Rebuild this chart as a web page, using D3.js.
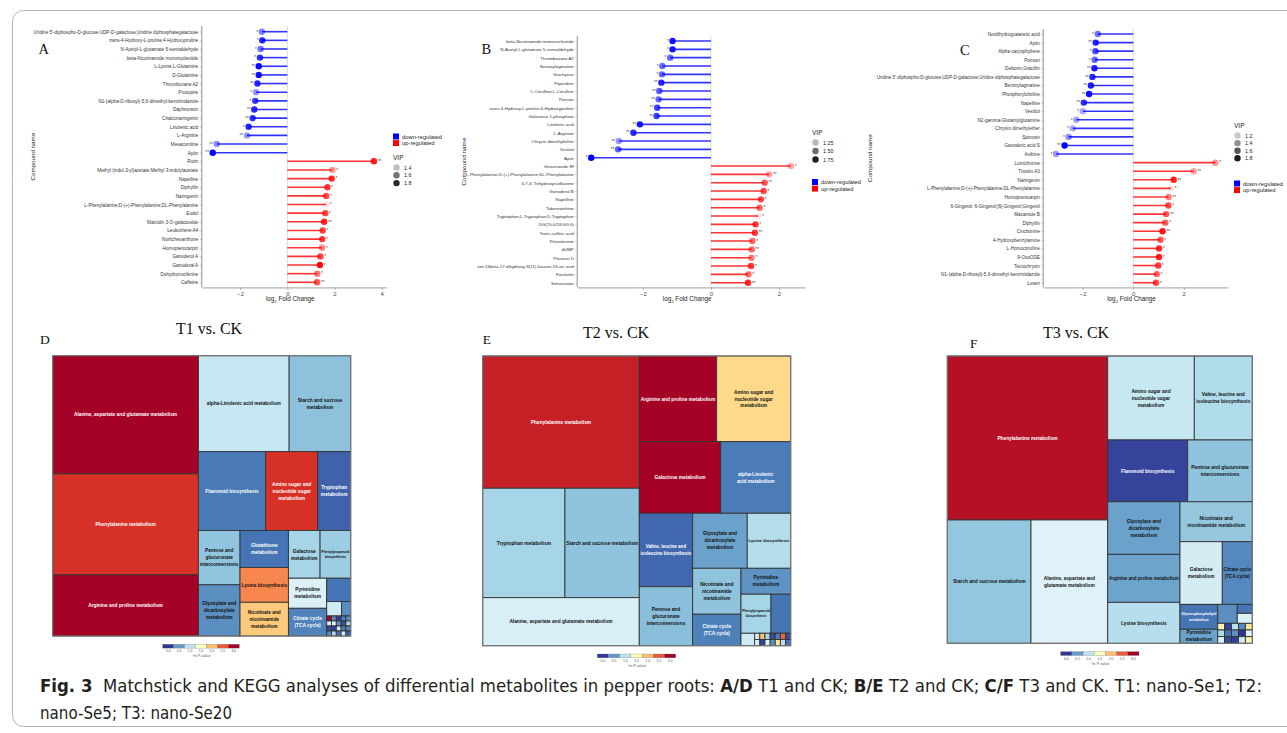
<!DOCTYPE html>
<html><head><meta charset="utf-8">
<script src="https://cdn.jsdelivr.net/npm/d3@7"></script>
<style>
html,body{margin:0;padding:0;background:#fff;}
svg{display:block;}
</style></head><body>
<svg id="fig" width="1287" height="733"></svg>
<script>
// ---------- Matchstick data (log2 fold change, VIP, significance) ----------
const compoundsA = [
  "Uridine 5'-diphospho-D-glucose;UDP-D-galactose;Uridine diphosphategalactose",
  "trans-4-Hydroxy-L-proline;4-Hydroxyproline","N-Acetyl-L-glutamate 5-semialdehyde",
  "beta-Nicotinamide mononucleotide","L-Lysine;L-Glutamine","D-Glutamine","Thromboxane A2",
  "Protopine","N1-(alpha-D-ribosyl)-5,6-dimethyl-benzimidazole","Daphnoretin","Chalconaringenin",
  "Linolenic acid","L-Arginine","Mesaconitine","Apiin","Rutin",
  "Methyl (indol-3-yl)acetate;Methyl 3-indolylacetate","Napelline","Diphyllin","Naringenin",
  "L-Phenylalanine;D-(+)-Phenylalanine;DL-Phenylalanine","Eudol","Malvidin 3-O-galactoside",
  "Leukotriene A4","Norlichexanthone","Homopterocarpin","Ganoderol A","Ganoderal A",
  "Dehydronuciferine","Caffeine"];
const log2fcA = [-1.08,-1.06,-1.13,-1.16,-1.21,-1.21,-1.27,-1.33,-1.36,-1.40,-1.47,-1.64,-1.71,-2.99,-3.16,
  3.67,1.91,1.88,1.70,1.65,1.64,1.61,1.56,1.50,1.48,1.47,1.40,1.38,1.27,1.26];
const vipA = [1.55,1.82,1.60,1.78,1.88,1.86,1.80,1.50,1.75,1.80,1.78,1.80,1.50,1.52,1.90,
  1.82,1.50,1.80,1.75,1.70,1.30,1.72,1.80,1.72,1.75,1.55,1.72,1.88,1.58,1.68];
const sigA = ["*","*","*","*","**","**","**","*","*","**","**","*","**","**","**",
  "**","*","*","*","*","*","*","**","*","*","*","*","*","*","**"];

const compoundsB = [
  "beta-Nicotinamide mononucleotide","N-Acetyl-L-glutamate 5-semialdehyde","Thromboxane A2",
  "Benzoylagmatine","Stachyose","Piperidine","L-Citrulline;L-Citrulline","Ponson",
  "trans-4-Hydroxy-L-proline;4-Hydroxyproline","Galactose 1-phosphate","Linolenic acid",
  "L-Arginine","Chrysin dimethylether","Vestitol","Apiin",
  "Ginsenoside Rf","L-Phenylalanine;D-(+)-Phenylalanine;DL-Phenylalanine",
  "6,7,4'-Trihydroxyisoflavone","Ganoderol B","Napelline","Tabernanthine",
  "Tryptophan;L-Tryptophan;D-Tryptophan","DG(15:0/18:0/0:0)","Trans-caffeic acid",
  "Petasitenine","dUMP","Pterocin D","ent-16beta,17-dihydroxy-9(11)-kauren-19-oic acid",
  "Forskolin","Simvastatin"];
const log2fcB = [-1.13,-1.13,-1.20,-1.43,-1.44,-1.46,-1.52,-1.54,-1.58,-1.60,-2.09,-2.28,-2.71,-2.73,-3.52,
  2.35,1.71,1.58,1.55,1.47,1.43,1.39,1.31,1.29,1.22,1.20,1.19,1.18,1.10,1.09];
const vipB = [1.78,1.78,1.50,1.50,1.52,1.72,1.55,1.52,1.65,1.65,1.78,1.72,1.35,1.55,1.85,
  1.30,1.32,1.55,1.60,1.62,1.52,1.10,1.66,1.66,1.50,1.50,1.45,1.66,1.50,1.72];
const sigB = ["*","*","*","*","*","**","**","**","**","**","**","**","**","**","*",
  "*","**","**","*","*","*","*","*","**","*","**","*","*","*","**"];

const compoundsC = [
  "Nordihydroguaiaretic acid","Apiin","Alpha-caryophyllene","Ponson","Deltonin;Gracillin",
  "Uridine 5'-diphospho-D-glucose;UDP-D-galactose;Uridine diphosphategalactose",
  "Benzoylagmatine","Phosphorylcholine","Napelline","Vestitol","N2-gamma-Glutamylglutamine",
  "Chrysin dimethylether","Spinosin","Ganoderic acid S","Anibine",
  "Lumichrome","Triostin A3","Naringenin","L-Phenylalanine;D-(+)-Phenylalanine;DL-Phenylalanine",
  "Homopterocarpin","6-Gingerol; 6-Gingerol;[6]-Gingerol;Gingerol","Macamide B","Diphyllin",
  "Cinchonine","4-Hydroxybenzylamine","L-Homocitrulline","9-OxoODE","Tectochrysin",
  "N1-(alpha-D-ribosyl)-5,6-dimethyl-benzimidazole","Lutein"];
const log2fcC = [-1.41,-1.49,-1.50,-1.53,-1.54,-1.62,-1.68,-1.75,-1.96,-2.00,-2.26,-2.40,-2.56,-2.72,-3.06,
  3.25,2.39,1.60,1.49,1.40,1.39,1.30,1.27,1.16,1.08,1.02,1.02,0.99,0.93,0.90];
const vipC = [1.50,1.78,1.65,1.55,1.80,1.75,1.80,1.85,1.75,1.30,1.32,1.30,1.40,1.90,1.35,
  1.38,1.35,1.78,1.10,1.45,1.65,1.60,1.55,1.82,1.58,1.75,1.78,1.68,1.55,1.65];
const sigC = ["*","**","*","*","**","**","**","**","**","*","*","*","*","**","*",
  "*","**","**","*","**","*","**","*","**","*","*","*","*","*","*"];

const vipBreaksA = [1.4, 1.6, 1.8];
const vipBreaksB = [1.25, 1.50, 1.75];
const vipBreaksC = [1.2, 1.4, 1.6, 1.8];
const fcTicksA = [-2, 0, 2, 4];
const fcTicksB = [-2, 0, 2];
const fcTicksC = [-2, 0, 2];

// ---------- KEGG treemap data (pathway, relative size, -ln P) ----------
const pathwaysD = ["Alanine, aspartate and glutamate metabolism","Phenylalanine metabolism",
  "Arginine and proline metabolism","alpha-Linolenic acid metabolism","Starch and sucrose\nmetabolism",
  "Flavonoid biosynthesis","Amino sugar and\nnucleotide sugar\nmetabolism","Tryptophan\nmetabolism",
  "Pentose and\nglucuronate\ninterconversions","Glyoxylate and\ndicarboxylate\nmetabolism",
  "Glutathione\nmetabolism","Lysine biosynthesis","Nicotinate and\nnicotinamide\nmetabolism",
  "Galactose\nmetabolism","Phenylpropanoid\nbiosynthesis","Pyrimidine\nmetabolism","Citrate cycle\n(TCA cycle)"];
const sizeD = [172,147,89,87,59,53,41,26,22.6,21.3,17.9,16.8,16.3,15.1,14.6,11.5,10.6];
const lnpD = [3.0,2.7,3.0,1.05,0.74,0.33,2.7,0.21,0.76,0.44,0.3,2.28,1.94,0.87,0.82,1.17,0.37];
const minorSizeD = [5.6,2.15,1.3].concat(d3.range(20).map(() => 0.24));
const minorLnpD = [0.3,1.1,0.43,
  3.0,1.15,0.1,0.4, 0.4,1.2,0.05,0.9, 0.05,0.45,1.1,0.3, 0.35,0.1,0.35,1.15, 0.45,0.9,0.4,0.2];

const pathwaysE = ["Phenylalanine metabolism","Tryptophan metabolism","Starch and sucrose metabolism",
  "Alanine, aspartate and glutamate metabolism","Arginine and proline metabolism",
  "Amino sugar and\nnucleotide sugar\nmetabolism","Galactose metabolism","alpha-Linolenic\nacid metabolism",
  "Valine, leucine and\nisoleucine biosynthesis","Pentose and\nglucuronate\ninterconversions",
  "Glyoxylate and\ndicarboxylate\nmetabolism","Lysine biosynthesis","Nicotinate and\nnicotinamide\nmetabolism",
  "Citrate cycle\n(TCA cycle)","Pyrimidine\nmetabolism","Phenylpropanoid\nbiosynthesis"];
const sizeE = [207,90,81.3,75.2,66.3,63.4,58.3,50.1,39.2,31.5,30,23.9,22.2,15.2,12.9,11.7];
const lnpE = [2.8,0.87,0.75,1.15,3.0,1.84,3.0,0.34,0.24,0.72,0.54,0.95,0.75,0.36,0.46,0.87];
const minorSizeE = [7.7,1.7].concat(d3.range(14).map(() => 0.32));
const minorLnpE = [0.3,1.1, 1.1,1.15, 2.0,0.05, 0.9,1.2, 0.1,0.45, 0.35,1.75, 2.45,1.0, 0.1,0.3];

const pathwaysF = ["Phenylalanine metabolism","Starch and sucrose metabolism",
  "Alanine, aspartate and\nglutamate metabolism","Amino sugar and\nnucleotide sugar\nmetabolism",
  "Valine, leucine and\nisoleucine biosynthesis","Flavonoid biosynthesis",
  "Pentose and glucuronate\ninterconversions","Glyoxylate and\ndicarboxylate\nmetabolism",
  "Arginine and proline metabolism","Lysine biosynthesis","Nicotinate and\nnicotinamide metabolism",
  "Galactose\nmetabolism","Citrate cycle\n(TCA cycle)","Glycerophospholipid\nmetabolism","Pyrimidine\nmetabolism"];
const sizeF = [263,103.2,94.6,72.7,48.7,49.4,39.9,38,34.7,29.6,28.9,26.5,18.8,9.4,5.3];
const lnpF = [2.9,0.77,1.19,1.06,0.93,0.06,0.75,0.54,0.55,0.96,0.78,1.13,0.4,0.3,0.54];
const minorSizeF = [3.7,1.35,1.5].concat(d3.range(15).map(() => 0.46));
const minorLnpF = [0.44,0.3,1.17, 1.6,0.9,1.2, 0.05,0.3,0.1, 1.0,0.45,0.05, 0.4,0.0,1.1, 1.75,1.2,1.6];

const lnpTicks = [0, 0.5, 1, 1.5, 2, 2.5, 3];

// nesting of the treemap blocks (numbers: named pathways, "mN": minor pathways)
const gridCols = (start, cols, rows) => d3.range(cols).map(c => d3.range(rows).map(r => "m" + (start + c * rows + r)));
const nestD = [[0,1,2],[[3,4],[5,6,7],[[8,9],[10,11,12],[[13,14],[[15,16],["m0",["m1","m2"],gridCols(3,5,4)]]]]]];
const nestE = [[0,[1,2],3],[[4,5],[6,7],[[8,9],[[10,11],[[12,13],[14,[15,"m0"],["m1"].concat(gridCols(2,7,2))]]]]]];
const nestF = [[0,[1,2]],[[3,4],[5,6],[[7,8,9],[10,[11,12],[[13,14],[["m0",["m1","m2"]],gridCols(3,5,3)]]]]]];

// ---------- drawing ----------
const svg = d3.select("#fig");
const SANS = "'Liberation Sans', Arial, Helvetica, sans-serif";
const SERIF = "'Liberation Serif', 'Times New Roman', serif";

// frame
svg.append("rect").attr("x", 12.5).attr("y", 10.5).attr("width", 1300).attr("height", 716)
  .attr("rx", 11).attr("fill", "none").attr("stroke", "#b5b5b5").attr("stroke-width", 1);

function drawMatchstick(o) {
  const g = svg.append("g");
  const x = d3.scaleLinear().domain(o.xDomain).range([o.x0, o.x1]);
  const y = d3.scalePoint().domain(o.names).range([o.yFirst, o.yLast]);
  const alpha = d3.scaleLinear().domain(d3.extent(o.vip)).range([0.1, 1]);
  const idx = d3.range(o.names.length);
  const col = i => o.fc[i] < 0 ? "#0000ff" : "#ff0000";

  g.append("line").attr("x1", x(0)).attr("x2", x(0)).attr("y1", o.yTop).attr("y2", o.yAxis)
    .attr("stroke", "#dcdcdc").attr("stroke-width", 1);

  g.selectAll(".stick").data(idx).join("line")
    .attr("x1", x(0)).attr("x2", i => x(o.fc[i]))
    .attr("y1", i => y(o.names[i])).attr("y2", i => y(o.names[i]))
    .attr("stroke", col).attr("stroke-opacity", 0.8).attr("stroke-width", 1.6);

  g.selectAll(".dot").data(idx).join("circle")
    .attr("cx", i => x(o.fc[i])).attr("cy", i => y(o.names[i])).attr("r", 3.2)
    .attr("fill", col).attr("fill-opacity", i => alpha(o.vip[i]));

  g.selectAll(".sig").data(idx).join("text")
    .attr("x", i => x(o.fc[i]) + (o.fc[i] < 0 ? -3.8 : 3.8))
    .attr("y", i => y(o.names[i]) + 1.8)
    .attr("text-anchor", i => o.fc[i] < 0 ? "end" : "start")
    .attr("font-family", SANS).attr("font-size", 4.6).attr("fill", "#444")
    .text(i => o.sig[i]);

  // compound axis
  const ay = g.append("g").attr("transform", `translate(${o.x0},0)`)
    .call(d3.axisLeft(y).tickSize(2).tickPadding(1.5));
  ay.select(".domain").remove();
  ay.selectAll(".tick line").attr("stroke", "#999").attr("stroke-width", 0.6);
  ay.selectAll(".tick text").attr("font-family", SANS).attr("font-size", o.labelSize).attr("fill", "#333");
  g.append("line").attr("x1", o.x0).attr("x2", o.x0).attr("y1", o.yTop).attr("y2", o.yAxis)
    .attr("stroke", "#b3b3b3").attr("stroke-width", 1.5);

  // fold-change axis
  const ax = g.append("g").attr("transform", `translate(0,${o.yAxis})`)
    .call(d3.axisBottom(x).tickValues(o.ticks).tickSize(2.5).tickSizeOuter(0).tickPadding(1.5)
      .tickFormat(d3.format("d")));
  ax.select(".domain").attr("stroke", "#b3b3b3").attr("stroke-width", 1.3);
  ax.selectAll(".tick line").attr("stroke", "#999").attr("stroke-width", 0.8);
  ax.selectAll(".tick text").attr("font-family", SANS).attr("font-size", 6).attr("fill", "#4d4d4d");

  const xt = g.append("text").attr("x", (o.x0 + o.x1) / 2 - 4).attr("y", o.yAxis + 14)
    .attr("text-anchor", "middle").attr("font-family", SANS).attr("font-size", 6.3).attr("fill", "#222");
  xt.append("tspan").text("log");
  xt.append("tspan").attr("font-size", 4.2).attr("dy", 1.5).text("2");
  xt.append("tspan").attr("dy", -1.5).text(" Fold Change");

  g.append("text").attr("transform", `translate(${o.titleX},${(o.yTop + o.yAxis) / 2}) rotate(-90)`)
    .attr("text-anchor", "middle").attr("font-family", SANS).attr("font-size", 6.2).attr("fill", "#222")
    .text("Compound name");

  g.append("text").attr("x", o.letter[1]).attr("y", o.letter[2]).attr("font-family", SERIF)
    .attr("font-size", 14.5).attr("fill", "#111").text(o.letter[0]);

  // direction legend
  const dl = g.append("g").attr("transform", `translate(${o.dirLeg[0]},${o.dirLeg[1]})`);
  [["down-regulated", "#0000ff"], ["up-regulated", "#ff0000"]].forEach((d, k) => {
    dl.append("rect").attr("x", 0).attr("y", k * 6.6).attr("width", 6).attr("height", 6).attr("fill", d[1]);
    dl.append("text").attr("x", 9).attr("y", k * 6.6 + 5).attr("font-family", SANS)
      .attr("font-size", 5.8).attr("fill", "#222").text(d[0]);
  });

  // VIP legend
  const vl = g.append("g").attr("transform", `translate(${o.vipLeg[0]},${o.vipLeg[1]})`);
  vl.append("text").attr("x", 0).attr("y", 0).attr("font-family", SANS).attr("font-size", 6.5)
    .attr("fill", "#222").text("VIP");
  o.vipBreaks.forEach((v, k) => {
    vl.append("circle").attr("cx", 3.5).attr("cy", 7.5 + k * o.vipStep).attr("r", 3.2)
      .attr("fill", "#000").attr("fill-opacity", alpha(v));
    vl.append("text").attr("x", 11).attr("y", 9.5 + k * o.vipStep).attr("font-family", SANS)
      .attr("font-size", 5.4).attr("fill", "#222").text(v.toFixed(o.vipDigits));
  });
}

drawMatchstick({names: compoundsA, fc: log2fcA, vip: vipA, sig: sigA, ticks: fcTicksA,
  xDomain: [-3.627, 4.21], x0: 201.7, x1: 386.7, yFirst: 31.7, yLast: 282.3, yTop: 26, yAxis: 287.3,
  titleX: 35, letter: ["A", 38.5, 54.3], dirLeg: [393, 133.5], vipLeg: [393, 160], labelSize: 4.65,
  vipBreaks: vipBreaksA, vipStep: 7.8, vipDigits: 1});
drawMatchstick({names: compoundsB, fc: log2fcB, vip: vipB, sig: sigB, ticks: fcTicksB,
  xDomain: [-3.93, 2.765], x0: 577.3, x1: 805, yFirst: 41, yLast: 282.7, yTop: 36, yAxis: 287.3,
  titleX: 466, letter: ["B", 481.5, 54.3], dirLeg: [812, 179], vipLeg: [812, 135], labelSize: 4.4,
  vipBreaks: vipBreaksB, vipStep: 8.5, vipDigits: 2});
drawMatchstick({names: compoundsC, fc: log2fcC, vip: vipC, sig: sigC, ticks: fcTicksC,
  xDomain: [-3.564, 3.739], x0: 1043.3, x1: 1227.7, yFirst: 34, yLast: 282.7, yTop: 29, yAxis: 287.3,
  titleX: 872, letter: ["C", 960, 54.7], dirLeg: [1234, 180.5], vipLeg: [1234, 128], labelSize: 4.6,
  vipBreaks: vipBreaksC, vipStep: 7.6, vipDigits: 1});

// ---------- treemaps ----------
const lnpColor = d3.scaleLinear()
  .domain(d3.range(11).map(i => i * 0.3))
  .range(["#313695","#4575b4","#74add1","#abd9e9","#e0f3f8","#ffffbf","#fee090","#fdae61","#f46d43","#d73027","#a50026"])
  .clamp(true);

function buildTree(nest, names, sizes, lnp, mSizes, mLnp) {
  const make = n => {
    if (Array.isArray(n)) return {children: n.map(make)};
    if (typeof n === "string") {
      const k = +n.slice(1);
      return {name: "", size: mSizes[k], lnp: mLnp[k]};
    }
    return {name: names[n], size: sizes[n], lnp: lnp[n]};
  };
  return make(nest);
}

function drawTreemap(o) {
  const g = svg.append("g").attr("transform", `translate(${o.x},${o.y})`);
  const root = d3.hierarchy(buildTree(o.nest, o.names, o.sizes, o.lnp, o.mSizes, o.mLnp))
    .sum(d => d.children ? 0 : d.size);
  d3.treemap().tile(d3.treemapSliceDice).size([o.w, o.h]).round(false)(root);

  const leaves = root.leaves();
  g.selectAll("rect.cell").data(leaves).join("rect")
    .attr("x", d => d.x0).attr("y", d => d.y0)
    .attr("width", d => d.x1 - d.x0).attr("height", d => d.y1 - d.y0)
    .attr("fill", d => lnpColor(d.data.lnp))
    .attr("stroke", "#333").attr("stroke-width", 0.9);
  g.append("rect").attr("x", 0).attr("y", 0).attr("width", o.w).attr("height", o.h)
    .attr("fill", "none").attr("stroke", "#7a7a7a").attr("stroke-width", 1.1);

  leaves.filter(d => d.data.name).forEach(d => {
    const lines = d.data.name.split("\n");
    const cw = d.x1 - d.x0, ch = d.y1 - d.y0;
    const t = g.append("text").attr("font-family", SANS).attr("font-weight", "bold")
      .attr("font-size", 4.8).attr("text-anchor", "middle")
      .attr("fill", (d.data.lnp < 0.38 || d.data.lnp > 2.5) ? "#ffffff" : "#111");
    lines.forEach((ln, k) => t.append("tspan").attr("x", 0).attr("dy", k ? "1.45em" : 0).text(ln));
    let fs = 4.8;
    const wMax = d3.max(t.selectAll("tspan").nodes(), n => n.getComputedTextLength());
    if (wMax > cw - 2.5) fs = fs * (cw - 2.5) / wMax;
    const hNeed = fs * (1 + 1.45 * (lines.length - 1));
    if (hNeed > ch - 2) fs = fs * (ch - 2) / hNeed;
    t.attr("font-size", fs);
    const blockH = fs * 1.45 * (lines.length - 1);
    t.attr("transform", `translate(${(d.x0 + d.x1) / 2},${(d.y0 + d.y1) / 2 - blockH / 2 + fs * 0.35})`);
  });

  svg.append("text").attr("x", o.title[1]).attr("y", o.title[2]).attr("text-anchor", "middle")
    .attr("font-family", SERIF).attr("font-size", 16).attr("fill", "#111").text(o.title[0]);
  svg.append("text").attr("x", o.letter[1]).attr("y", o.letter[2]).attr("font-family", SERIF)
    .attr("font-size", 13.5).attr("fill", "#111").text(o.letter[0]);

  // -ln P-value colour key
  const lg = svg.append("g").attr("transform", `translate(${o.leg[0]},${o.leg[1]})`);
  const bw = o.leg[2] / lnpTicks.length;
  lnpTicks.forEach((v, k) => {
    lg.append("rect").attr("x", k * bw).attr("y", 0).attr("width", bw).attr("height", 3.8)
      .attr("fill", lnpColor(v)).attr("stroke", "#666").attr("stroke-width", 0.25);
    lg.append("text").attr("x", k * bw + bw / 2).attr("y", 8).attr("text-anchor", "middle")
      .attr("font-family", SANS).attr("font-size", 3.4).attr("fill", "#555").text(v.toFixed(1));
  });
  const lt = lg.append("text").attr("x", o.leg[2] / 2).attr("y", 13).attr("text-anchor", "middle")
    .attr("font-family", SANS).attr("font-size", 3.8).attr("fill", "#555");
  lt.append("tspan").text("\u2212ln ");
  lt.append("tspan").attr("font-style", "italic").text("P");
  lt.append("tspan").text("-value");
}

drawTreemap({x: 52.7, y: 355.7, w: 298, h: 280.3, nest: nestD, names: pathwaysD, sizes: sizeD, lnp: lnpD,
  mSizes: minorSizeD, mLnp: minorLnpD, title: ["T1 vs. CK", 209, 333.5], letter: ["D", 40, 343.7],
  leg: [162.7, 644.3, 76.6]});
drawTreemap({x: 482.7, y: 356, w: 308, h: 289.7, nest: nestE, names: pathwaysE, sizes: sizeE, lnp: lnpE,
  mSizes: minorSizeE, mLnp: minorLnpE, title: ["T2 vs. CK", 616, 337.5], letter: ["E", 482.7, 344.3],
  leg: [597.3, 654, 78.4]});
drawTreemap({x: 947.3, y: 356, w: 305, h: 287.3, nest: nestF, names: pathwaysF, sizes: sizeF, lnp: lnpF,
  mSizes: minorSizeF, mLnp: minorLnpF, title: ["T3 vs. CK", 1076, 337.5], letter: ["F", 970, 348.3],
  leg: [1060.7, 651.7, 78.3]});

// ---------- caption ----------
const CAP = "'Liberation Sans Narrow', 'DejaVu Sans Condensed', 'Liberation Sans', sans-serif";
const cap1 = svg.append("text").attr("x", 40).attr("y", 692).attr("font-family", CAP)
  .attr("font-size", 17.5).attr("fill", "#231f20")
  .attr("textLength", 1222).attr("lengthAdjust", "spacingAndGlyphs");
[["Fig. 3", true], ["  Matchstick and KEGG analyses of differential metabolites in pepper roots: ", false],
 ["A/D", true], [" T1 and CK; ", false], ["B/E", true], [" T2 and CK; ", false], ["C/F", true],
 [" T3 and CK. T1: nano-Se1; T2:", false]].forEach(p => {
  cap1.append("tspan").attr("font-weight", p[1] ? "bold" : "normal").attr("xml:space", "preserve").text(p[0]);
});
svg.append("text").attr("x", 40).attr("y", 719).attr("font-family", CAP).attr("font-size", 17.5)
  .attr("fill", "#231f20").attr("textLength", 192).attr("lengthAdjust", "spacingAndGlyphs")
  .text("nano-Se5; T3: nano-Se20");
</script>
</body></html>
